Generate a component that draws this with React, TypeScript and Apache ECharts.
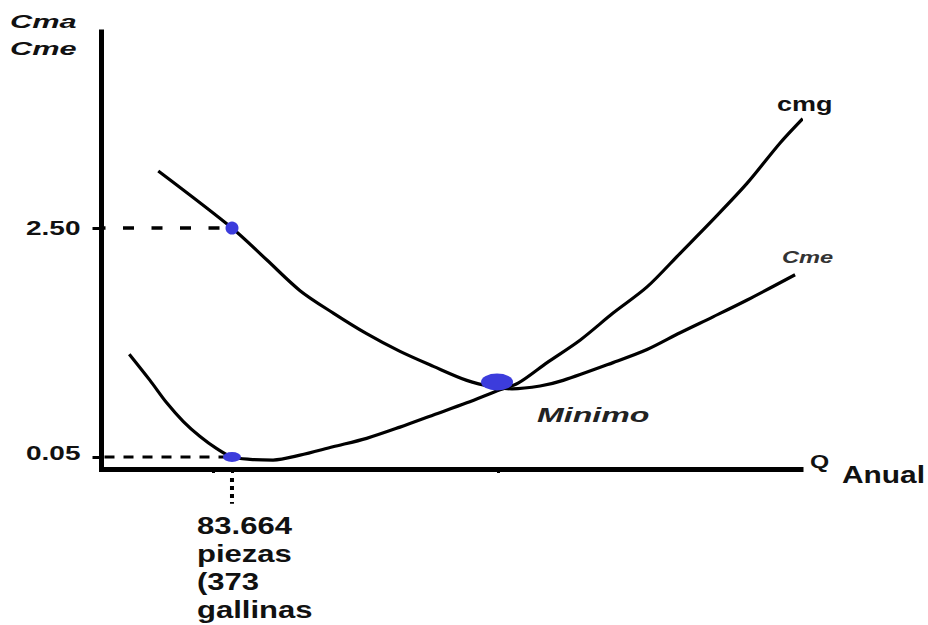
import React, { useEffect, useRef } from "react";
import * as echarts from "echarts";

// Average cost curve (Cme): quantity (thousand pieces) and cost
const cmeQ = [36.4, 83.664, 105.9, 127.3, 148.6, 170.0, 191.4, 212.8, 234.2, 251.0, 263.2, 281.2, 296.0, 328.0, 349.8, 371.0, 392.1, 414.0, 444.7];
const cmeV = [3.11, 2.5, 2.16, 1.83, 1.59, 1.37, 1.18, 1.02, 0.87, 0.8, 0.78, 0.81, 0.87, 1.06, 1.2, 1.38, 1.55, 1.73, 2.0];
// Marginal cost curve (cmg)
const cmgQ = [17.8, 31.1, 41.8, 52.5, 63.2, 73.9, 83.664, 95.2, 110.0, 127.3, 148.4, 170.0, 191.4, 212.8, 234.2, 255.5, 267.1, 285.7, 306.8, 328.0, 349.8, 371.0, 392.1, 414.0, 435.1, 449.6];
const cmgV = [1.15, 0.87, 0.63, 0.43, 0.27, 0.14, 0.05, 0.025, 0.018, 0.07, 0.16, 0.25, 0.37, 0.5, 0.63, 0.77, 0.84, 1.06, 1.3, 1.59, 1.87, 2.23, 2.59, 2.98, 3.41, 3.67];
// Tick values / labels
const yTickValues = [0.05, 2.5];
const yTickLabels = ["0.05", "2.50"];
const xTickValues = [71.5, 83.664, 254.2];
const qOpt = 83.664;
const qLabel = "83.664\npiezas\n(373\ngallinas";
const minPoint = [253.6, 0.852];
const dottedDrop = [-0.175, -0.45];

const BLUE = "#3c3cdc";
const ELLIPSE = "path://M0 10A20 10 0 1 1 40 10A20 10 0 1 1 0 10Z";
const FONT = "'Liberation Sans', Arial, sans-serif";

export default function App() {
  const ref = useRef<HTMLDivElement>(null);
  useEffect(() => {
    if (!ref.current) return;
    const chart = echarts.init(ref.current, undefined, { renderer: "svg" });
    const zip = (a: number[], b: number[]) => a.map((v, i) => [v, b[i]]);
    chart.setOption({
      animation: false,
      backgroundColor: "#fff",
      grid: { left: 101.5, right: 127, top: 32, bottom: 156 },
      xAxis: {
        type: "value",
        min: 0,
        max: 448.5,
        splitLine: { show: false },
        axisLabel: { show: false },
        axisLine: { onZero: false, lineStyle: { color: "#000", width: 5, cap: "square" } },
        axisTick: {
          show: true,
          customValues: xTickValues,
          length: 4,
          lineStyle: { color: "#000", width: 3 },
        },
      },
      yAxis: {
        type: "value",
        min: -0.078,
        max: 4.597,
        splitLine: { show: false },
        axisLabel: { show: false },
        axisLine: { show: true, onZero: false, lineStyle: { color: "#000", width: 5, cap: "square" } },
        axisTick: {
          show: true,
          customValues: yTickValues,
          length: 9,
          lineStyle: { color: "#000", width: 3 },
        },
      },
      series: [
        {
          name: "Cme",
          type: "line",
          data: zip(cmeQ, cmeV),
          smooth: 0.3,
          symbol: "none",
          lineStyle: { color: "#000", width: 3.2 },
          z: 3,
        },
        {
          name: "cmg",
          type: "line",
          data: zip(cmgQ, cmgV),
          smooth: 0.3,
          symbol: "none",
          clip: false,
          lineStyle: { color: "#000", width: 3.2 },
          z: 3,
        },
        {
          type: "line",
          data: [[0, yTickValues[1]], [qOpt, yTickValues[1]]],
          symbol: "none",
          lineStyle: { color: "#000", width: 3.5, type: [11, 17.5], dashOffset: 6.5 },
          z: 2,
        },
        {
          type: "line",
          data: [[0, yTickValues[0]], [qOpt, yTickValues[0]]],
          symbol: "none",
          lineStyle: { color: "#000", width: 3, type: [10, 9], dashOffset: 16 },
          z: 2,
        },
        {
          type: "line",
          data: [[qOpt, dottedDrop[0]], [qOpt, dottedDrop[1]]],
          symbol: "none",
          clip: false,
          lineStyle: { color: "#000", width: 4, type: [4, 4] },
          z: 2,
        },
        {
          type: "scatter",
          clip: false,
          z: 5,
          itemStyle: { color: BLUE, opacity: 1 },
          data: [
            { value: [qOpt, yTickValues[1]], symbol: "circle", symbolSize: 13 },
            { value: [qOpt, yTickValues[0]], symbol: ELLIPSE, symbolSize: [18, 10] },
            { value: minPoint, symbol: ELLIPSE, symbolSize: [32, 17] },
          ],
        },
      ],
    });

    const px = (v: number[]) => chart.convertToPixel({ gridIndex: 0 }, v) as number[];
    const txt = (
      text: string,
      x: number,
      y: number,
      size: number,
      scaleX: number,
      opts: any = {}
    ) => ({
      type: "text",
      x,
      y,
      scaleX,
      z: 10,
      style: {
        text,
        fontFamily: FONT,
        fontSize: size,
        fontWeight: "bold",
        fontStyle: opts.italic ? "italic" : "normal",
        fill: opts.fill || "#111",
        align: opts.align || "left",
        textAlign: opts.align || "left",
        verticalAlign: opts.va || "middle",
        textVerticalAlign: opts.va || "middle",
        lineHeight: opts.lineHeight,
      },
    });

    const graphics: any[] = [];
    yTickValues.forEach((v, i) => {
      const p = px([0, v]);
      graphics.push(txt(yTickLabels[i], p[0] - 21, p[1] - (i === 0 ? 4 : 0), 20, 1.4, { align: "right" }));
    });
    const q = px([qOpt, 0]);
    graphics.push(txt(qLabel, q[0] - 35, 512, 23, 1.35, { va: "top", lineHeight: 28 }));
    graphics.push(txt("Cma", 10, 21, 19, 1.62, { italic: true }));
    graphics.push(txt("Cme", 10, 48, 19, 1.62, { italic: true }));
    graphics.push(txt("cmg", 777, 104, 20, 1.35));
    graphics.push(txt("Cme", 782, 257, 16, 1.48, { italic: true, fill: "#333" }));
    graphics.push(txt("Minimo", 537, 415, 21, 1.53, { italic: true, fill: "#222" }));
    graphics.push(txt("Q", 810, 462, 19, 1.3));
    graphics.push(txt("Anual", 842, 475, 23, 1.3));
    chart.setOption({ graphic: graphics });

    return () => chart.dispose();
  }, []);
  return (
    <div
      ref={ref}
      style={{ position: "fixed", left: 0, top: 0, width: 928, height: 625, background: "#fff" }}
    />
  );
}
